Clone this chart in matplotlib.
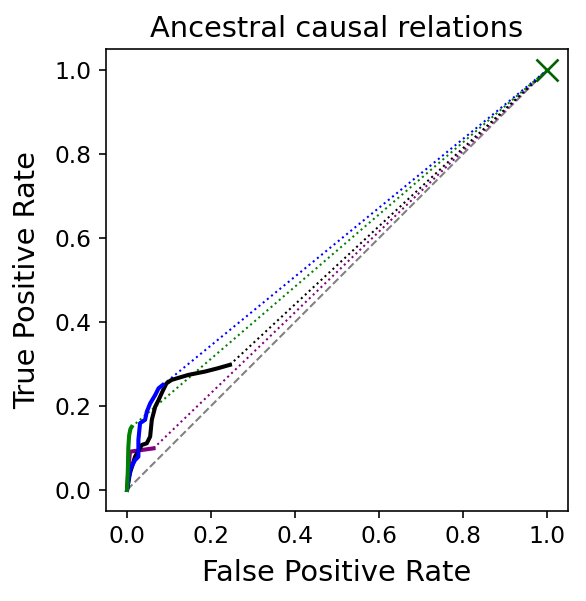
import matplotlib
matplotlib.use("Agg")
import matplotlib.pyplot as plt

# ROC-like curves (FPR, TPR)
green_fpr = [0.0, 0.002, 0.003, 0.005, 0.008, 0.011]
green_tpr = [0.0, 0.05, 0.10, 0.13, 0.145, 0.15]

blue_fpr = [0.0, 0.007, 0.019, 0.027, 0.027, 0.031, 0.043, 0.047, 0.055, 0.067, 0.075, 0.085]
blue_tpr = [0.0, 0.048, 0.071, 0.079, 0.119, 0.159, 0.167, 0.186, 0.206, 0.226, 0.242, 0.25]

black_fpr = [0.0, 0.007, 0.019, 0.035, 0.047, 0.055, 0.059, 0.067, 0.075, 0.086, 0.094,
             0.106, 0.146, 0.186, 0.217, 0.245]
black_tpr = [0.0, 0.040, 0.079, 0.107, 0.111, 0.127, 0.167, 0.198, 0.214, 0.238, 0.254,
             0.262, 0.274, 0.282, 0.290, 0.298]

purple_fpr = [0.0, 0.004, 0.007, 0.063]
purple_tpr = [0.0, 0.06, 0.091, 0.099]

curves = [
    (purple_fpr, purple_tpr, "purple"),
    (black_fpr, black_tpr, "black"),
    (blue_fpr, blue_tpr, "blue"),
    (green_fpr, green_tpr, "green"),
]

DPI = 146.5
fig = plt.figure(figsize=(586 / DPI, 601 / DPI), dpi=DPI)
ax = fig.add_axes([0.181, 0.150, 0.788, 0.768])

ax.plot([0, 1], [0, 1], linestyle="--", color="gray", lw=1.0)
for fx, ty, c in curves:
    ax.plot([fx[-1], 1], [ty[-1], 1], linestyle=":", color=c, lw=1.0)
for fx, ty, c in curves:
    ax.plot(fx, ty, color=c, lw=2.0)

ax.plot([1], [1], marker="x", color="#006400", markersize=11, mew=1.3, linestyle="none")

ax.set_xlim(-0.05, 1.05)
ax.set_ylim(-0.05, 1.05)
ax.set_xticks([0.0, 0.2, 0.4, 0.6, 0.8, 1.0])
ax.set_yticks([0.0, 0.2, 0.4, 0.6, 0.8, 1.0])
ax.tick_params(labelsize=11.5)
ax.set_xlabel("False Positive Rate", fontsize=14.2, labelpad=5.5)
ax.set_ylabel("True Positive Rate", fontsize=14.2, labelpad=6.5)
ax.set_title("Ancestral causal relations", fontsize=14.2)

fig.savefig("out.png", dpi=DPI)
